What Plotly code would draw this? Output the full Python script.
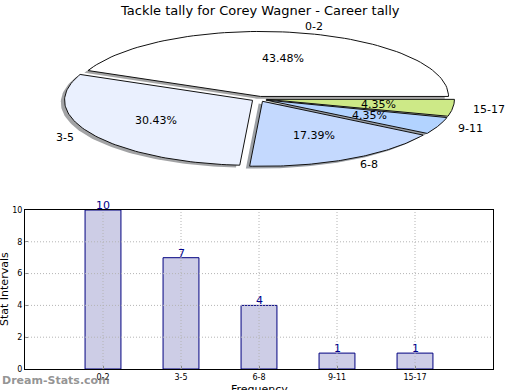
import numpy as np
import plotly.graph_objects as go

# ---- data ----
categories = ["0-2", "3-5", "6-8", "9-11", "15-17"]
counts = [10, 7, 4, 1, 1]
pie_colors = ["#ffffff", "#eaf0fe", "#c4d9fe", "#b2d3ff", "#cde987"]
explode = [0.04, 0.04, 0.04, 0.04, 0.04]
y_ticks = [0, 2, 4, 6, 8, 10]
title_text = "Tackle tally for Corey Wagner - Career tally"

W, H = 520, 390
fig = go.Figure()

# ---- pie drawn on an overlay axis (unit circle stretched to an ellipse) ----
cx_px, cy_px, rx_px, ry_px = 259, 99, 188, 65
xr = [-cx_px / rx_px, (W - cx_px) / rx_px]
yr = [-(H - cy_px) / ry_px, cy_px / ry_px]

total = sum(counts)
fracs = [c / total for c in counts]
start = 0.0
shapes_data = []
for cat, f, col, ex in zip(categories, fracs, pie_colors, explode):
    t1 = start
    t2 = start + f * 360.0
    start = t2
    tm = np.deg2rad((t1 + t2) / 2)
    ox, oy = ex * np.cos(tm), ex * np.sin(tm)
    th = np.deg2rad(np.linspace(t1, t2, 80))
    px = np.concatenate([[ox], ox + np.cos(th), [ox]])
    py = np.concatenate([[oy], oy + np.sin(th), [oy]])
    shapes_data.append((cat, f, col, ox, oy, tm, px, py))

# shadows first
for cat, f, col, ox, oy, tm, px, py in shapes_data:
    r = int(col[1:3], 16); g = int(col[3:5], 16); b = int(col[5:7], 16)
    fig.add_trace(go.Scatter(
        x=px - 0.02, y=py - 0.035, mode="lines", fill="toself",
        fillcolor=f"rgba({int(0.3*r)},{int(0.3*g)},{int(0.3*b)},0.5)",
        line=dict(width=0), xaxis="x2", yaxis="y2", hoverinfo="skip",
        showlegend=False))
for cat, f, col, ox, oy, tm, px, py in shapes_data:
    fig.add_trace(go.Scatter(
        x=px, y=py, mode="lines", fill="toself", fillcolor=col,
        line=dict(color="#111111", width=1), xaxis="x2", yaxis="y2",
        hoverinfo="skip", showlegend=False))
    # outside label
    lx = ox + 1.1 * np.cos(tm)
    ly = oy + 1.1 * np.sin(tm)
    fig.add_annotation(x=lx, y=ly, xref="x2", yref="y2", text=cat,
                       showarrow=False, xanchor="left" if lx > 0 else "right",
                       yanchor="middle",
                       font=dict(family="DejaVu Sans", size=11, color="#000"))
    # percentage label
    fig.add_annotation(x=ox + 0.6 * np.cos(tm), y=oy + 0.6 * np.sin(tm),
                       xref="x2", yref="y2", text=f"{f*100:.2f}%",
                       showarrow=False, xanchor="center", yanchor="middle",
                       font=dict(family="DejaVu Sans", size=11, color="#000"))

# ---- bar chart ----
xpos = list(range(1, len(categories) + 1))
fig.add_trace(go.Bar(
    x=xpos, y=counts, width=0.46,
    marker=dict(color="#cdcde6", line=dict(color="#000080", width=1)),
    xaxis="x", yaxis="y", showlegend=False, hoverinfo="skip"))

for xp, c in zip(xpos, counts):
    fig.add_annotation(x=xp, y=c, xref="x", yref="y", text=str(c),
                       showarrow=False, yanchor="bottom", yshift=-4,
                       font=dict(family="DejaVu Sans", size=11, color="#00008b"))

# dotted grid drawn above bars
for xp in xpos:
    fig.add_shape(type="line", x0=xp, x1=xp, y0=0, y1=10, xref="x", yref="y",
                  line=dict(color="#b4b4b4", width=1, dash="1px,2px"),
                  layer="above")
for yt in y_ticks[1:-1]:
    fig.add_shape(type="line", x0=0, x1=6, y0=yt, y1=yt, xref="x", yref="y",
                  line=dict(color="#b4b4b4", width=1, dash="1px,2px"),
                  layer="above")

bx0, bx1 = 25 / W, 493 / W
by0, by1 = (H - 369) / H, (H - 210) / H

fig.update_layout(
    width=W, height=H, margin=dict(l=0, r=0, t=0, b=0),
    paper_bgcolor="white", plot_bgcolor="rgba(0,0,0,0)",
    xaxis=dict(domain=[bx0, bx1], range=[0, 6], tickvals=xpos,
               ticktext=categories, showgrid=False, zeroline=False,
               showline=True, linecolor="black", linewidth=1, mirror=True,
               ticks="inside", ticklen=3, tickcolor="#888", automargin=False,
               tickfont=dict(family="DejaVu Sans", size=8, color="#000")),
    yaxis=dict(domain=[by0, by1], range=[0, 10], tickvals=y_ticks,
               showgrid=False, zeroline=False,
               showline=True, linecolor="black", linewidth=1, mirror=True,
               ticks="inside", ticklen=3, tickcolor="#888", automargin=False,
               tickfont=dict(family="DejaVu Sans", size=8, color="#000")),
    xaxis2=dict(domain=[0, 1], range=xr, visible=False, anchor="y2",
                fixedrange=True, automargin=False),
    yaxis2=dict(domain=[0, 1], range=yr, visible=False, anchor="x2",
                fixedrange=True, automargin=False),
)

fig.add_annotation(x=0.5, y=(H - 10) / H, xref="paper", yref="paper",
                   text=title_text, showarrow=False, xanchor="center",
                   yanchor="middle",
                   font=dict(family="DejaVu Sans", size=13, color="#000"))
fig.add_annotation(x=4 / W, y=(H - 289) / H, xref="paper", yref="paper",
                   text="Stat Intervals", showarrow=False, textangle=-90,
                   xanchor="center", yanchor="middle",
                   font=dict(family="DejaVu Sans", size=11, color="#000"))
fig.add_annotation(x=259 / W, y=(H - 389) / H, xref="paper", yref="paper",
                   text="Frequency", showarrow=False, xanchor="center",
                   yanchor="middle",
                   font=dict(family="DejaVu Sans", size=11, color="#000"))
fig.add_annotation(x=0, y=(H - 380) / H, xref="paper", yref="paper",
                   text="<b>Dream-Stats.com</b>", showarrow=False,
                   xanchor="left", yanchor="middle",
                   font=dict(family="DejaVu Sans", size=11,
                             color="rgba(120,120,120,0.8)"))

fig.write_html("out.html", config={"displayModeBar": False},
               post_script="document.body.style.margin='0';"
                           "document.body.style.padding='0';")
